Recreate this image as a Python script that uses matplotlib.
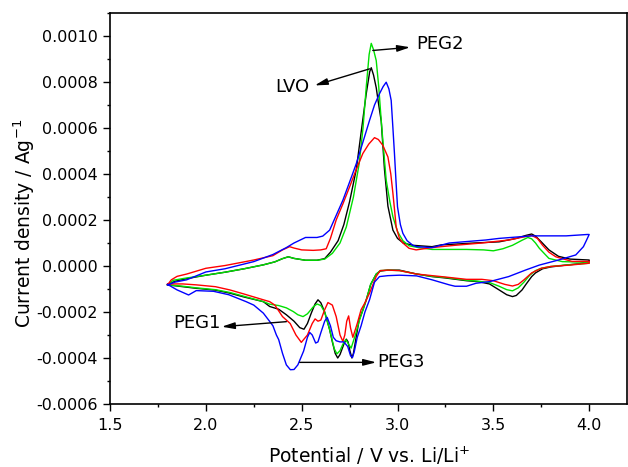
import matplotlib
matplotlib.use("Agg")
import matplotlib.pyplot as plt
from matplotlib.ticker import MultipleLocator, FormatStrFormatter

plt.rcParams["font.family"] = ["DejaVu Sans"]
plt.rcParams["axes.unicode_minus"] = False

# ── Data: CV loops (anodic sweep 1.8 -> 4.0, then cathodic 4.0 -> 1.8) ──────────
lvo_v = [1.80, 1.84, 1.90, 2.00, 2.10, 2.20, 2.30, 2.36, 2.40, 2.43, 2.46, 2.52, 2.58,
         2.62, 2.65, 2.69, 2.72, 2.75, 2.785, 2.81, 2.837, 2.855, 2.863, 2.875, 2.889,
         2.902, 2.915, 2.932, 2.95, 2.976, 3.00, 3.03, 3.08, 3.18, 3.23, 3.30, 3.40,
         3.53, 3.62, 3.67, 3.70, 3.72, 3.75, 3.79, 3.84, 3.90, 4.00,
         4.00, 3.95, 3.88, 3.80, 3.757, 3.72, 3.70, 3.67, 3.65, 3.62, 3.60, 3.57, 3.53,
         3.48, 3.42, 3.36, 3.25, 3.18, 3.10, 3.01, 2.95, 2.91, 2.889, 2.86, 2.837, 2.82,
         2.80, 2.785, 2.77, 2.762, 2.752, 2.742, 2.733, 2.72, 2.70, 2.688, 2.675, 2.66,
         2.646, 2.62, 2.60, 2.585, 2.57, 2.55, 2.53, 2.512, 2.49, 2.46, 2.42, 2.38,
         2.333, 2.30, 2.20, 2.125, 2.05, 1.95, 1.88, 1.80]
lvo_i = [-0.000082, -0.000066, -0.000055, -0.000040, -0.000027, -0.000012, 0.000005,
         0.000018, 0.000032, 0.000040, 0.000033, 0.000025, 0.000025, 0.000032, 0.000060,
         0.000110, 0.000180, 0.000280, 0.000420, 0.000580, 0.000750, 0.000845, 0.000862,
         0.000830, 0.000775, 0.000700, 0.000630, 0.000420, 0.000260, 0.000156, 0.000120,
         0.000100, 0.000090, 0.000084, 0.000092, 0.000095, 0.000100, 0.000105, 0.000120,
         0.000133, 0.000139, 0.000130, 0.000105, 0.000070, 0.000042, 0.000030, 0.000026,
         0.000020, 0.000010, 0.000004, -0.000004, -0.000012, -0.000030, -0.000046,
         -0.000080, -0.000104, -0.000128, -0.000133, -0.000125, -0.000104, -0.000078,
         -0.000068, -0.000064, -0.000052, -0.000046, -0.000035, -0.000018, -0.000018,
         -0.000022, -0.000035, -0.000080, -0.000147, -0.000190, -0.000234, -0.000306,
         -0.000380, -0.000400, -0.000370, -0.000330, -0.000318, -0.000340, -0.000385,
         -0.000400, -0.000380, -0.000330, -0.000277, -0.000200, -0.000160, -0.000147,
         -0.000165, -0.000205, -0.000250, -0.000275, -0.000268, -0.000240, -0.000212,
         -0.000188, -0.000176, -0.000155, -0.000135, -0.000118, -0.000105, -0.000097,
         -0.000090, -0.000082]

peg1_v = [1.80, 1.82, 1.85, 1.90, 2.00, 2.10, 2.25, 2.35, 2.40, 2.437, 2.46, 2.50, 2.56,
          2.60, 2.628, 2.65, 2.68, 2.715, 2.75, 2.785, 2.819, 2.85, 2.88, 2.90, 2.923,
          2.95, 2.965, 2.976, 2.985, 2.993, 3.01, 3.028, 3.06, 3.097, 3.18, 3.30, 3.44,
          3.58, 3.65, 3.70, 3.73, 3.757, 3.79, 3.826, 3.91, 4.00,
          4.00, 3.90, 3.80, 3.75, 3.70, 3.66, 3.63, 3.60, 3.56, 3.50, 3.44, 3.36, 3.25,
          3.10, 3.01, 2.95, 2.91, 2.889, 2.854, 2.83, 2.81, 2.79, 2.767, 2.755, 2.745,
          2.735, 2.725, 2.715, 2.70, 2.68, 2.66, 2.637, 2.62, 2.60, 2.585, 2.57, 2.555,
          2.53, 2.498, 2.47, 2.44, 2.40, 2.36, 2.333, 2.30, 2.20, 2.125, 2.05, 1.95,
          1.88, 1.80]
peg1_i = [-0.000082, -0.000060, -0.000045, -0.000035, -0.000010, 0.000002, 0.000026,
          0.000045, 0.000070, 0.000084, 0.000078, 0.000070, 0.000068, 0.000070, 0.000075,
          0.000120, 0.000200, 0.000270, 0.000344, 0.000420, 0.000489, 0.000530, 0.000558,
          0.000550, 0.000525, 0.000474, 0.000400, 0.000316, 0.000240, 0.000170, 0.000120,
          0.000100, 0.000077, 0.000070, 0.000080, 0.000090, 0.000100, 0.000113, 0.000125,
          0.000133, 0.000120, 0.000090, 0.000060, 0.000040, 0.000020, 0.000020,
          0.000012, 0.000004, -0.000002, -0.000010, -0.000030, -0.000060, -0.000080,
          -0.000087, -0.000080, -0.000064, -0.000058, -0.000058, -0.000048, -0.000035,
          -0.000020, -0.000018, -0.000020, -0.000045, -0.000118, -0.000160, -0.000190,
          -0.000250, -0.000310, -0.000270, -0.000217, -0.000240, -0.000300, -0.000328,
          -0.000300, -0.000220, -0.000170, -0.000159, -0.000190, -0.000235, -0.000240,
          -0.000230, -0.000250, -0.000300, -0.000332, -0.000300, -0.000250, -0.000220,
          -0.000170, -0.000155, -0.000147, -0.000122, -0.000104, -0.000090, -0.000082,
          -0.000078, -0.000078]

peg2_v = [1.80, 1.83, 1.90, 2.00, 2.10, 2.20, 2.30, 2.36, 2.40, 2.43, 2.46, 2.52, 2.58,
          2.62, 2.66, 2.70, 2.733, 2.77, 2.80, 2.82, 2.837, 2.852, 2.863, 2.875, 2.889,
          2.902, 2.915, 2.928, 2.941, 2.96, 2.976, 3.00, 3.028, 3.06, 3.11, 3.18, 3.36,
          3.45, 3.50, 3.55, 3.60, 3.65, 3.68, 3.70, 3.72, 3.74, 3.79, 3.86, 4.00,
          4.00, 3.90, 3.80, 3.75, 3.72, 3.69, 3.66, 3.63, 3.60, 3.57, 3.53, 3.48, 3.42,
          3.36, 3.25, 3.18, 3.10, 3.01, 2.95, 2.91, 2.889, 2.86, 2.837, 2.82, 2.80, 2.78,
          2.758, 2.745, 2.73, 2.715, 2.70, 2.684, 2.67, 2.646, 2.62, 2.60, 2.58, 2.56,
          2.53, 2.507, 2.48, 2.456, 2.42, 2.38, 2.333, 2.30, 2.20, 2.125, 2.05, 1.95,
          1.88, 1.80]
peg2_i = [-0.000082, -0.000062, -0.000052, -0.000040, -0.000027, -0.000012, 0.000005,
          0.000018, 0.000032, 0.000040, 0.000033, 0.000025, 0.000025, 0.000030, 0.000055,
          0.000100, 0.000170, 0.000300, 0.000445, 0.000600, 0.000780, 0.000920, 0.000968,
          0.000940, 0.000893, 0.000780, 0.000633, 0.000500, 0.000373, 0.000280, 0.000214,
          0.000150, 0.000110, 0.000088, 0.000080, 0.000072, 0.000072, 0.000070, 0.000066,
          0.000075, 0.000090, 0.000112, 0.000124, 0.000118, 0.000100, 0.000077, 0.000033,
          0.000019, 0.000016,
          0.000012, 0.000006, -0.000002, -0.000010, -0.000020, -0.000040, -0.000070,
          -0.000095, -0.000108, -0.000103, -0.000088, -0.000072, -0.000066, -0.000062,
          -0.000050, -0.000045, -0.000035, -0.000020, -0.000018, -0.000020, -0.000035,
          -0.000080, -0.000147, -0.000190, -0.000240, -0.000300, -0.000357, -0.000340,
          -0.000320, -0.000340, -0.000368, -0.000382, -0.000360, -0.000277, -0.000200,
          -0.000172, -0.000165, -0.000178, -0.000208, -0.000220, -0.000212, -0.000198,
          -0.000182, -0.000172, -0.000166, -0.000155, -0.000132, -0.000115, -0.000103,
          -0.000095, -0.000088, -0.000082]

peg3_v = [1.80, 1.84, 1.90, 2.00, 2.10, 2.25, 2.35, 2.42, 2.46, 2.52, 2.58, 2.61, 2.646,
          2.68, 2.715, 2.75, 2.785, 2.82, 2.854, 2.88, 2.906, 2.925, 2.941, 2.955, 2.967,
          2.976, 2.984, 2.992, 3.00, 3.015, 3.028, 3.05, 3.08, 3.10, 3.18, 3.27, 3.46,
          3.53, 3.70, 3.88, 3.99, 4.00,
          3.985, 3.97, 3.93, 3.84, 3.74, 3.67, 3.58, 3.48, 3.41, 3.36, 3.30, 3.27, 3.18,
          3.10, 3.01, 2.95, 2.906, 2.88, 2.854, 2.83, 2.81, 2.79, 2.775, 2.765, 2.755,
          2.74, 2.72, 2.70, 2.68, 2.665, 2.65, 2.633, 2.62, 2.60, 2.585, 2.573, 2.555,
          2.542, 2.53, 2.51, 2.48, 2.46, 2.441, 2.42, 2.40, 2.38, 2.368, 2.35, 2.333,
          2.30, 2.25, 2.21, 2.12, 2.04, 1.95, 1.91, 1.85, 1.80]
peg3_i = [-0.000082, -0.000070, -0.000060, -0.000026, -0.000012, 0.000019, 0.000050,
          0.000080, 0.000100, 0.000124, 0.000124, 0.000130, 0.000156, 0.000220, 0.000286,
          0.000365, 0.000445, 0.000540, 0.000633, 0.000700, 0.000749, 0.000780, 0.000799,
          0.000770, 0.000720, 0.000600, 0.000490, 0.000370, 0.000257, 0.000180, 0.000142,
          0.000110, 0.000090, 0.000084, 0.000080, 0.000100, 0.000113, 0.000120, 0.000131,
          0.000131, 0.000137, 0.000137,
          0.000110, 0.000084, 0.000048, 0.000026, 0.000004, -0.000017, -0.000046,
          -0.000068, -0.000075, -0.000088, -0.000088, -0.000082, -0.000060, -0.000043,
          -0.000040, -0.000042, -0.000046, -0.000070, -0.000147, -0.000200, -0.000260,
          -0.000310, -0.000370, -0.000398, -0.000390, -0.000350, -0.000330, -0.000330,
          -0.000325, -0.000310, -0.000260, -0.000223, -0.000240, -0.000290, -0.000330,
          -0.000335, -0.000300, -0.000289, -0.000310, -0.000370, -0.000430, -0.000450,
          -0.000451, -0.000430, -0.000380, -0.000320, -0.000300, -0.000260, -0.000241,
          -0.000205, -0.000170, -0.000155, -0.000125, -0.000110, -0.000107, -0.000126,
          -0.000104, -0.000080]

# ── Figure ─────────────────────────────────────────────────────────────────────
fig = plt.figure(figsize=(6.28, 4.67), dpi=100, facecolor="white")
ax = fig.add_axes([0.1752, 0.1349, 0.8240, 0.8373])

ax.plot(lvo_v, lvo_i, color="black", lw=1.0)
ax.plot(peg2_v, peg2_i, color="#00e000", lw=1.0)
ax.plot(peg1_v, peg1_i, color="#ff0000", lw=1.0)
ax.plot(peg3_v, peg3_i, color="#0000ff", lw=1.0)

ax.set_xlim(1.5, 4.2)
ax.set_ylim(-0.0006, 0.0011)
ax.xaxis.set_major_locator(MultipleLocator(0.5))
ax.xaxis.set_minor_locator(MultipleLocator(0.25))
ax.yaxis.set_major_locator(MultipleLocator(0.0002))
ax.yaxis.set_minor_locator(MultipleLocator(0.0001))
ax.xaxis.set_major_formatter(FormatStrFormatter("%.1f"))
ax.yaxis.set_major_formatter(FormatStrFormatter("%.4f"))
ax.tick_params(which="both", direction="out", top=False, right=False, width=1.0)
ax.tick_params(which="major", length=5, labelsize=11.5)
ax.tick_params(axis="x", which="major", pad=5)
ax.tick_params(axis="y", which="major", pad=3.5)
ax.tick_params(which="minor", length=2.5)
for sp in ax.spines.values():
    sp.set_linewidth(1.2)

ax.set_xlabel("Potential / V vs. Li/Li$^{+}$", fontsize=13.5, labelpad=9)
ax.set_ylabel("Current density / Ag$^{-1}$", fontsize=13.5)
ax.yaxis.set_label_coords(-0.141, 0.463)

# ── Annotations ────────────────────────────────────────────────────────────────
arrow = dict(arrowstyle="-|>,head_length=0.55,head_width=0.14", color="black",
             lw=1.0, mutation_scale=14, shrinkA=0, shrinkB=0)
ax.annotate("", xy=(3.066, 0.000951), xytext=(2.871, 0.000937), arrowprops=arrow)
ax.text(3.099, 0.000963, "PEG2", fontsize=13, ha="left", va="center")
ax.annotate("", xy=(2.568, 0.000785), xytext=(2.854, 0.000857), arrowprops=arrow)
ax.text(2.542, 0.000777, "LVO", fontsize=13, ha="right", va="center")
ax.annotate("", xy=(2.083, -0.000264), xytext=(2.42, -0.000242), arrowprops=arrow)
ax.text(2.078, -0.000246, "PEG1", fontsize=13, ha="right", va="center")
ax.annotate("", xy=(2.889, -0.000419), xytext=(2.49, -0.000419), arrowprops=arrow)
ax.text(2.896, -0.000419, "PEG3", fontsize=13, ha="left", va="center")

fig.savefig("out.png", dpi=100, facecolor="white")
